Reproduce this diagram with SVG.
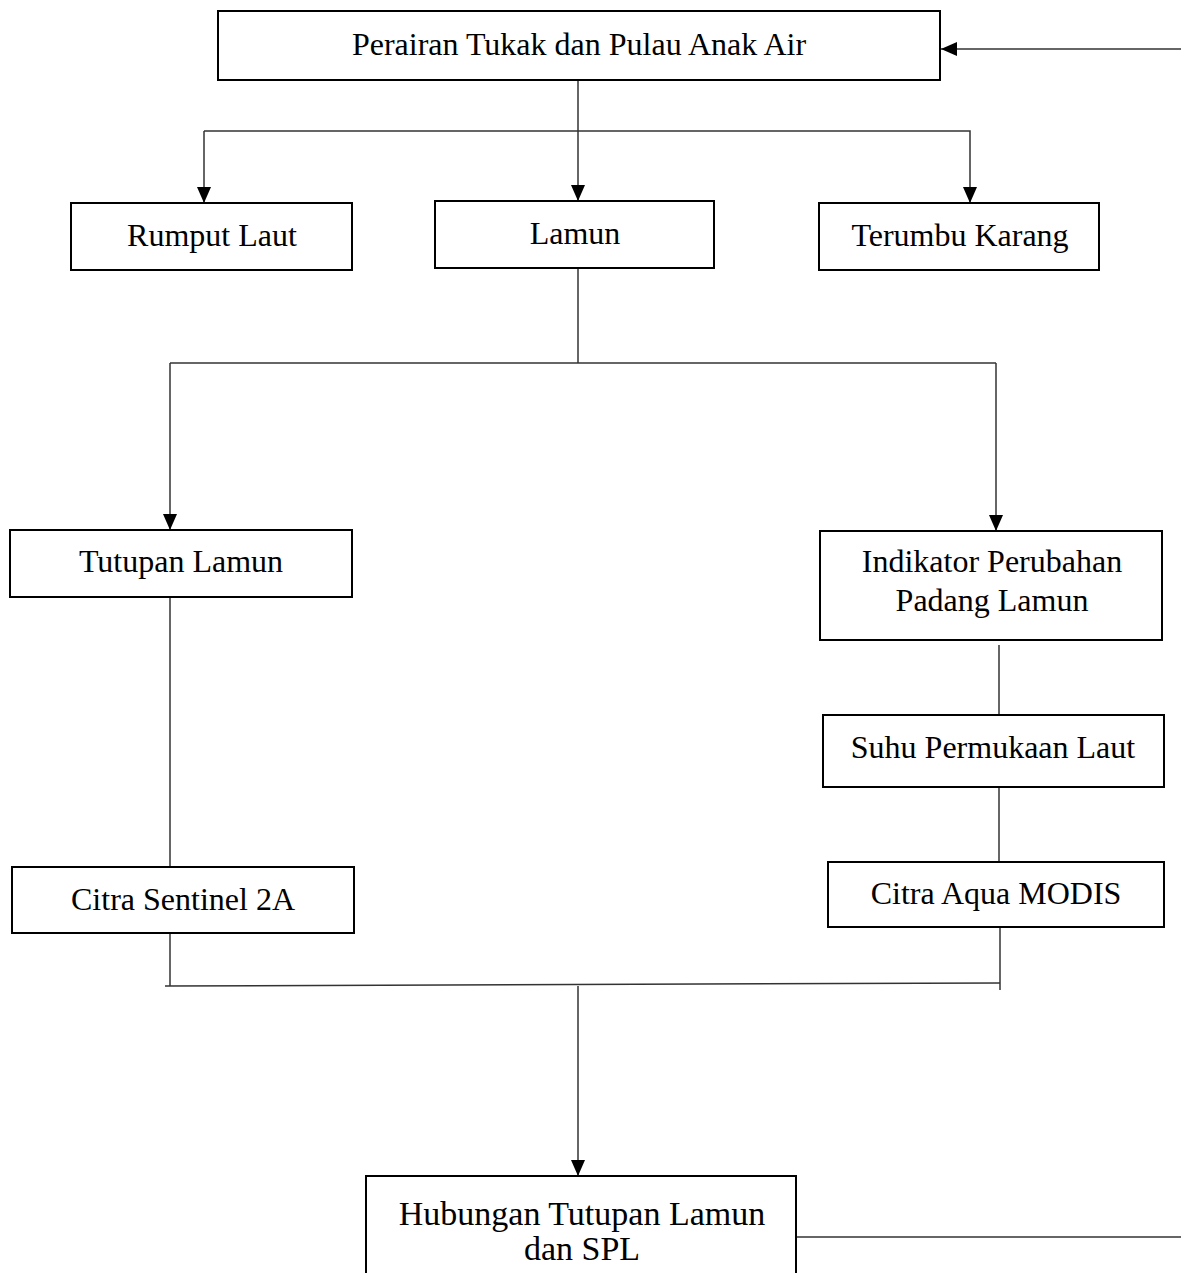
<svg xmlns="http://www.w3.org/2000/svg" width="1181" height="1273" viewBox="0 0 1181 1273">
<style>
.box{fill:#fff;stroke:#000;stroke-width:2}
.t{font-family:"Liberation Serif","Times New Roman",serif;font-size:32px;fill:#000;text-anchor:middle}
.c{fill:none;stroke:#333;stroke-width:1.5}
</style>
<defs>
<marker id="ah" viewBox="0 0 16 14" refX="16" refY="7" markerWidth="16" markerHeight="14" markerUnits="userSpaceOnUse" orient="auto">
<path d="M0,0 L16,7 L0,14 Z" fill="#000"/>
</marker>
</defs>
<rect width="1181" height="1273" fill="#fff"/>
<g id="connectors">
<line class="c" x1="1181" y1="49" x2="941" y2="49" marker-end="url(#ah)"/>
<line class="c" x1="578" y1="80" x2="578" y2="201" marker-end="url(#ah)"/>
<polyline class="c" points="204,131 970,131 970,203" marker-end="url(#ah)"/>
<line class="c" x1="204" y1="131" x2="204" y2="203" marker-end="url(#ah)"/>
<line class="c" x1="578" y1="268" x2="578" y2="363"/>
<line class="c" x1="170" y1="363" x2="996" y2="363"/>
<line class="c" x1="170" y1="363" x2="170" y2="530" marker-end="url(#ah)"/>
<line class="c" x1="996" y1="363" x2="996" y2="531" marker-end="url(#ah)"/>
<line class="c" x1="999" y1="645" x2="999" y2="715"/>
<line class="c" x1="999" y1="787" x2="999" y2="862"/>
<line class="c" x1="1000" y1="927" x2="1000" y2="990"/>
<line class="c" x1="170" y1="597" x2="170" y2="867"/>
<line class="c" x1="170" y1="933" x2="170" y2="986"/>
<line class="c" x1="165" y1="986" x2="1000" y2="983"/>
<line class="c" x1="578" y1="986" x2="578" y2="1176" marker-end="url(#ah)"/>
<line class="c" x1="796" y1="1237" x2="1181" y2="1237"/>
</g>
<g id="n-top"><rect class="box" x="218" y="11" width="722" height="69"/><text class="t" x="579" y="55">Perairan Tukak dan Pulau Anak Air</text></g>
<g id="n-rumput"><rect class="box" x="71" y="203" width="281" height="67"/><text class="t" x="212" y="246">Rumput Laut</text></g>
<g id="n-lamun"><rect class="box" x="435" y="201" width="279" height="67"/><text class="t" x="575" y="244">Lamun</text></g>
<g id="n-terumbu"><rect class="box" x="819" y="203" width="280" height="67"/><text class="t" x="960" y="246">Terumbu Karang</text></g>
<g id="n-tutupan"><rect class="box" x="10" y="530" width="342" height="67"/><text class="t" x="181" y="572">Tutupan Lamun</text></g>
<g id="n-indikator"><rect class="box" x="820" y="531" width="342" height="109"/><text class="t" x="992" y="572">Indikator Perubahan</text><text class="t" x="992" y="611">Padang Lamun</text></g>
<g id="n-suhu"><rect class="box" x="823" y="715" width="341" height="72"/><text class="t" x="993" y="758">Suhu Permukaan Laut</text></g>
<g id="n-aqua"><rect class="box" x="828" y="862" width="336" height="65"/><text class="t" x="996" y="904">Citra Aqua MODIS</text></g>
<g id="n-sentinel"><rect class="box" x="12" y="867" width="342" height="66"/><text class="t" x="183" y="910">Citra Sentinel 2A</text></g>
<g id="n-hubungan"><rect class="box" x="366" y="1176" width="430" height="110"/><text class="t" x="582" y="1225" style="font-size:34px">Hubungan Tutupan Lamun</text><text class="t" x="582" y="1260" style="font-size:34px">dan SPL</text></g>
</svg>
